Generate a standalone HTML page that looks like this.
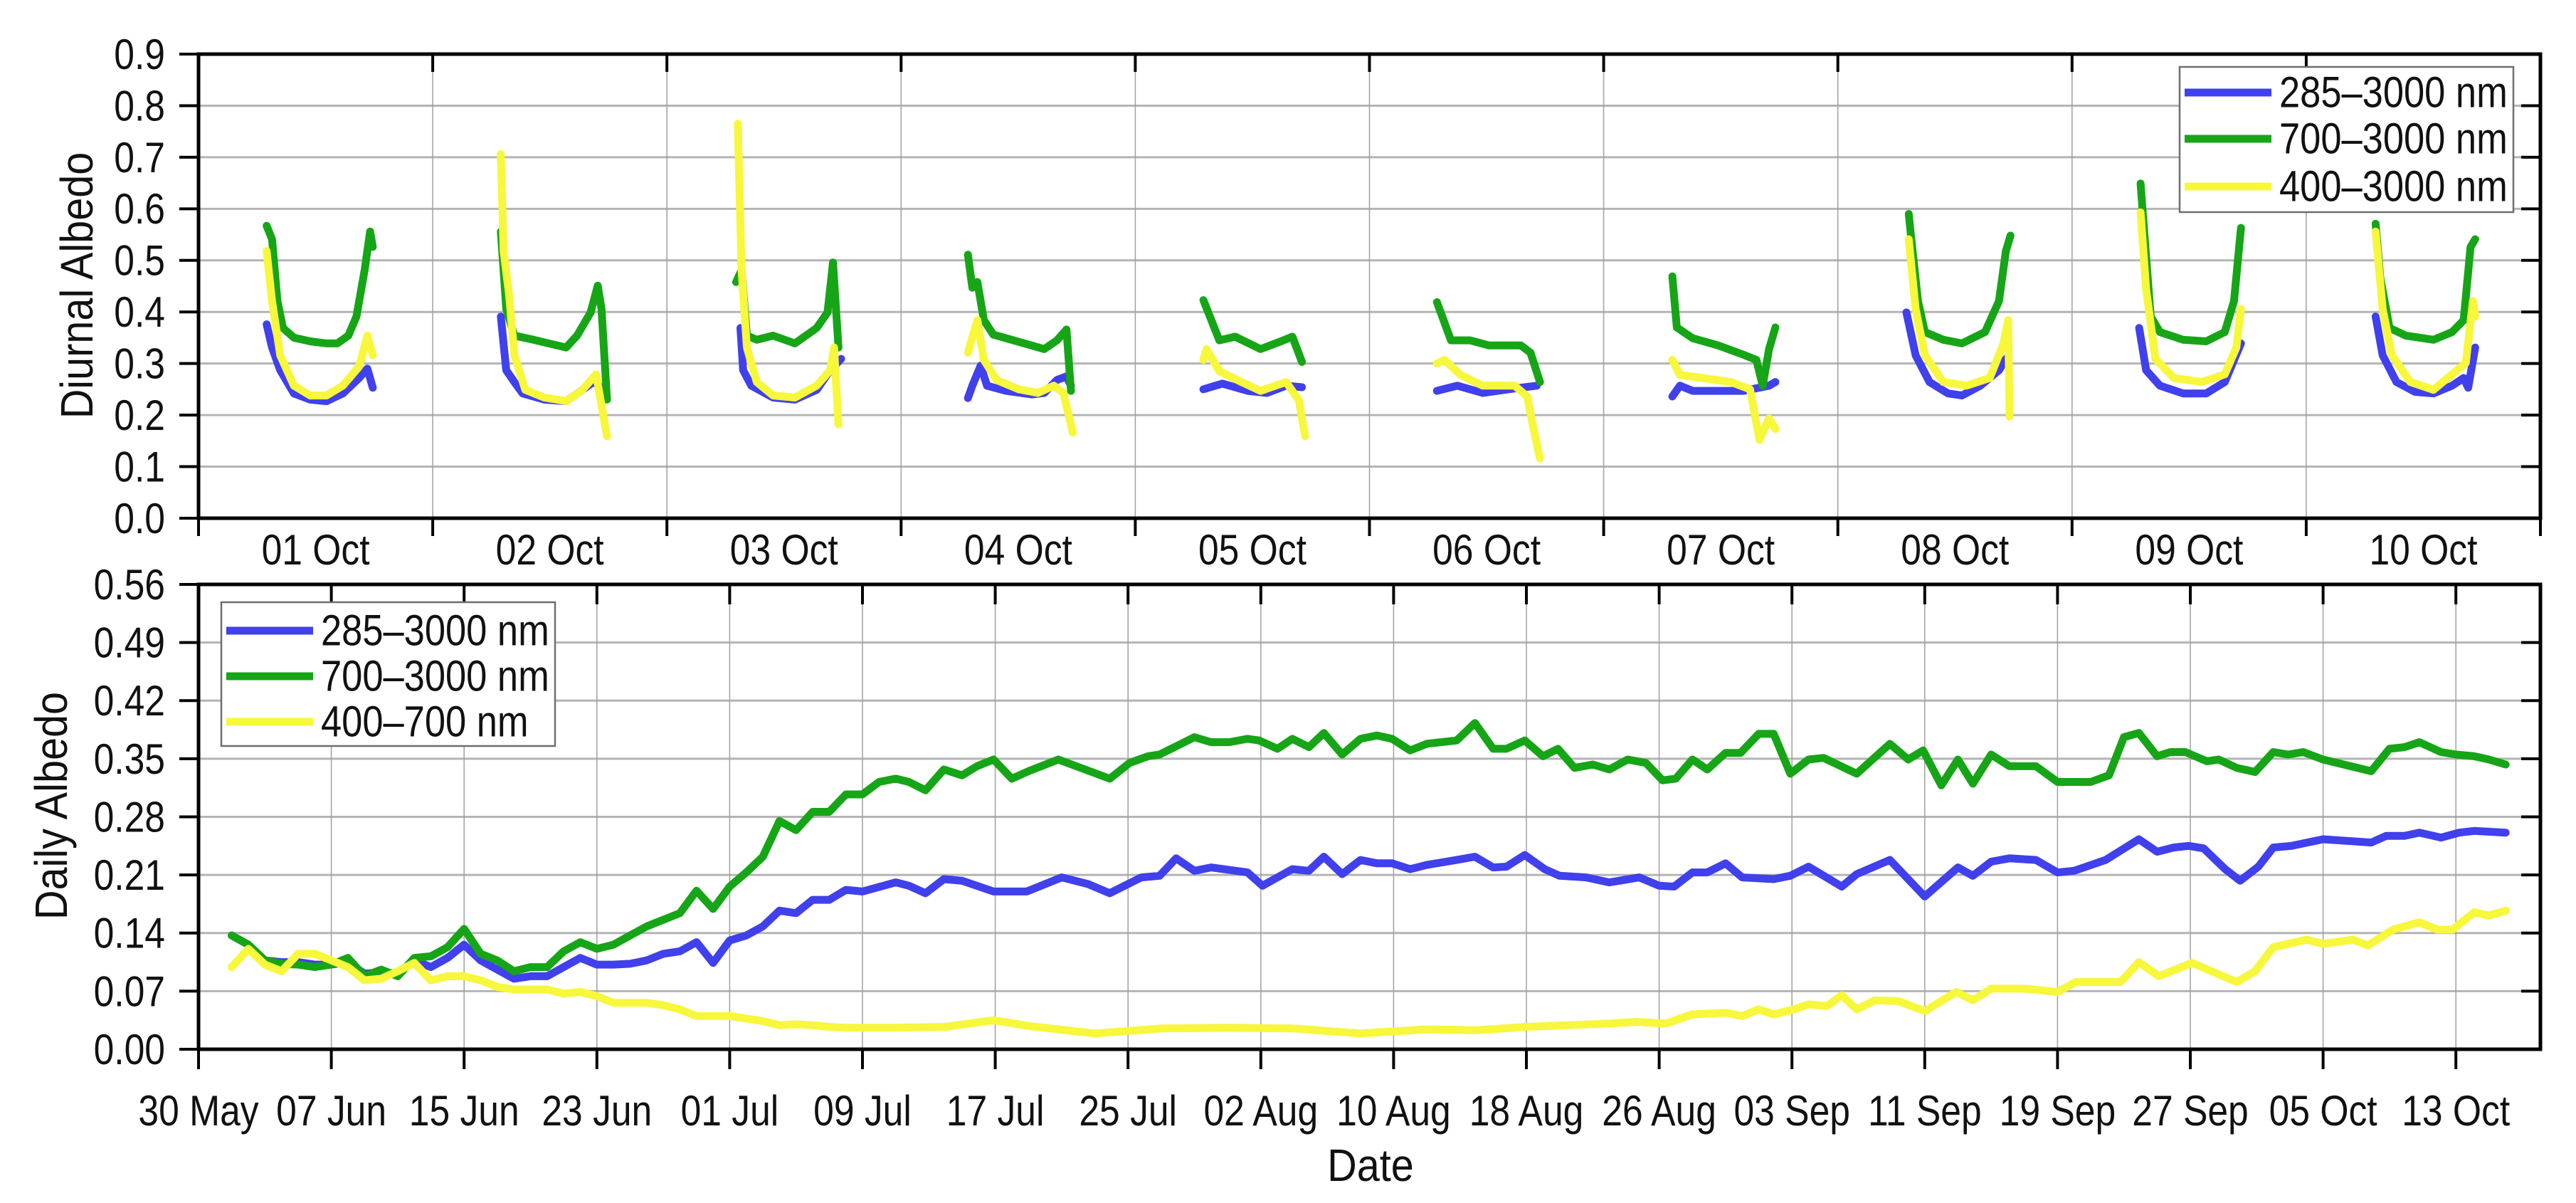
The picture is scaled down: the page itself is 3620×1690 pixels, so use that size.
<!DOCTYPE html>
<html><head><meta charset="utf-8"><style>
html,body{margin:0;padding:0;background:#fff;}
svg{display:block;font-family:"Liberation Sans",Arial,sans-serif;}
</style></head><body>
<svg id="chart" width="3620" height="1690" viewBox="0 0 3620 1690" xmlns="http://www.w3.org/2000/svg">
<rect x="0" y="0" width="3620" height="1690" fill="#fff"/>
<g id="topPanel"></g>
<g id="bottomPanel"></g>
</svg>
<script>
// ---------- Top panel data (diurnal) ----------
const dayLabels = ["01 Oct","02 Oct","03 Oct","04 Oct","05 Oct","06 Oct","07 Oct","08 Oct","09 Oct","10 Oct"];
const topTicks = [0.0,0.1,0.2,0.3,0.4,0.5,0.6,0.7,0.8,0.9];
const topTickLabels = ["0.0","0.1","0.2","0.3","0.4","0.5","0.6","0.7","0.8","0.9"];
const hours285 = [
 [6.98,7.53,8.37,9.77,11.44,13.12,14.79,16.46,17.3,17.86],
 [6.98,7.53,8.37,9.21,11.44,13.67,15.35,16.46,17.02],
 [7.53,7.81,8.65,10.88,13.12,15.35,16.74,17.86],
 [6.85,7.3,8.15,8.8,10.76,13.37,14.67,15.97,16.95,17.41],
 [6.98,8.93,11.54,13.5,15.45,17.08],
 [6.91,9.0,11.6,14.21,17.15],
 [7.04,7.82,9.13,11.74,14.34,16.95,17.6],
 [7.02,7.97,9.39,11.29,12.71,14.61,16.51,17.22],
 [6.88,7.59,9.01,11.38,13.75,15.65,17.31],
 [7.11,7.83,9.25,11.15,13.04,14.94,16.13,16.6,17.31]];
const vals285 = [
 [0.376,0.331,0.287,0.242,0.23,0.227,0.242,0.272,0.29,0.253],
 [0.391,0.287,0.264,0.242,0.23,0.227,0.249,0.264,0.257],
 [0.369,0.287,0.257,0.234,0.23,0.249,0.287,0.309],
 [0.233,0.257,0.296,0.257,0.247,0.24,0.243,0.268,0.275,0.257],
 [0.25,0.261,0.247,0.243,0.257,0.254],
 [0.247,0.257,0.243,0.25,0.257],
 [0.236,0.257,0.247,0.247,0.247,0.257,0.264],
 [0.399,0.316,0.264,0.242,0.238,0.257,0.287,0.309],
 [0.369,0.287,0.257,0.242,0.242,0.264,0.339],
 [0.391,0.316,0.264,0.245,0.242,0.257,0.272,0.253,0.331]];
const hours700 = [
 [6.98,7.53,8.09,8.65,9.77,11.44,13.12,14.23,15.35,16.18,17.02,17.58,17.86],
 [6.98,7.53,8.37,10.32,13.67,14.79,16.18,16.91,17.3,17.86],
 [7.09,7.65,8.2,9.21,10.88,13.12,15.35,16.46,17.02,17.58],
 [6.85,7.3,7.82,8.48,9.45,12.06,14.67,15.97,16.95,17.41],
 [6.98,8.61,10.24,12.84,14.8,16.1,17.08],
 [6.91,8.35,10.3,12.26,15.52,16.5,17.47],
 [7.04,7.5,9.13,11.74,14.34,15.65,16.3,16.95,17.6],
 [7.26,7.49,8.21,8.92,10.81,12.71,15.08,16.51,17.22,17.69],
 [7.02,7.21,8.06,9.01,11.38,13.75,15.65,16.6,17.31],
 [7.11,7.59,8.54,10.2,13.04,14.94,16.13,16.84,17.31]];
const vals700 = [
 [0.567,0.541,0.421,0.369,0.35,0.343,0.339,0.339,0.354,0.391,0.481,0.556,0.526],
 [0.556,0.406,0.354,0.346,0.331,0.354,0.399,0.451,0.406,0.23],
 [0.458,0.481,0.354,0.346,0.354,0.339,0.369,0.399,0.496,0.331],
 [0.511,0.447,0.458,0.384,0.356,0.342,0.328,0.345,0.366,0.247],
 [0.423,0.345,0.352,0.328,0.342,0.352,0.303],
 [0.419,0.345,0.345,0.335,0.335,0.321,0.264],
 [0.469,0.37,0.349,0.335,0.317,0.307,0.257,0.328,0.37],
 [0.59,0.548,0.421,0.361,0.346,0.339,0.361,0.421,0.518,0.548],
 [0.649,0.601,0.391,0.361,0.346,0.343,0.361,0.421,0.563],
 [0.571,0.466,0.369,0.354,0.346,0.361,0.384,0.526,0.541]];
const hours400 = [
 [6.98,7.53,8.37,9.77,11.44,13.12,14.79,16.46,17.3,17.86],
 [6.98,7.26,7.81,8.37,9.49,11.44,13.67,15.35,16.74,17.3,17.86],
 [7.26,7.65,8.2,9.21,10.88,13.12,15.35,16.74,17.13,17.58],
 [6.85,7.82,8.48,9.78,12.06,14.02,15.65,16.63,17.6],
 [6.98,7.3,8.61,10.89,12.84,15.45,16.76,17.41],
 [6.91,7.69,9.32,11.6,14.87,16.17,16.82,17.47],
 [7.04,7.82,10.43,13.04,15.0,15.97,16.95,17.6],
 [7.26,7.97,8.92,10.81,13.19,15.56,16.98,17.46,17.6],
 [7.02,7.59,8.54,10.43,13.28,15.65,16.84,17.31],
 [7.11,7.83,8.77,10.67,13.04,14.94,16.36,17.08,17.31]];
const vals400 = [
 [0.518,0.421,0.316,0.257,0.238,0.238,0.257,0.294,0.354,0.316],
 [0.706,0.518,0.436,0.316,0.249,0.234,0.227,0.249,0.279,0.219,0.159],
 [0.765,0.481,0.331,0.264,0.238,0.234,0.257,0.287,0.331,0.182],
 [0.321,0.384,0.307,0.268,0.25,0.243,0.257,0.243,0.166],
 [0.307,0.328,0.285,0.264,0.247,0.264,0.229,0.159],
 [0.3,0.307,0.278,0.257,0.257,0.236,0.173,0.116],
 [0.307,0.278,0.271,0.264,0.25,0.152,0.194,0.173],
 [0.541,0.406,0.316,0.264,0.257,0.272,0.339,0.384,0.197],
 [0.593,0.444,0.309,0.272,0.264,0.279,0.331,0.406],
 [0.556,0.406,0.316,0.264,0.249,0.279,0.301,0.421,0.391]];

// ---------- Bottom panel data (daily) ----------
const dateLabels = ["30 May","07 Jun","15 Jun","23 Jun","01 Jul","09 Jul","17 Jul","25 Jul","02 Aug","10 Aug","18 Aug","26 Aug","03 Sep","11 Sep","19 Sep","27 Sep","05 Oct","13 Oct"];
const bottomTicks = [0,0.07,0.14,0.21,0.28,0.35,0.42,0.49,0.56];
const bottomTickLabels = ["0.00","0.07","0.14","0.21","0.28","0.35","0.42","0.49","0.56"];
const daysB285 = [2,3,4,5,6,7,8,9,10,11,12,13,14,15,16,17,18,19,20,21,22,23,24,25,26,27,28,29,30,31,32,33,34,35,36,37,38,39,40,42,42.8,43.8,44.9,46,47.9,49.9,52,53.6,54.9,56.8,57.9,58.9,60,61,63.2,64.1,65.9,66.9,67.8,68.9,70,71,71.9,73,74,75.8,76.9,78,78.8,79.9,81.1,82,83.6,85,86.8,88,88.9,90,90.9,92,93,94.9,95.9,97,99,99.9,101.9,104,106,106.9,108,109.1,110.7,112,113,114.9,116.9,118,119,119.9,120.8,122.1,123,124.1,125,126.1,128,130.9,131.8,132.9,133.8,135.1,136.2,137.1,139];
const daily285 = [.137,.126,.107,.105,.105,.102,.102,.105,.091,.093,.091,.107,.099,.11,.126,.107,.096,.085,.088,.088,.099,.11,.102,.102,.103,.107,.115,.118,.129,.104,.131,.137,.148,.167,.164,.18,.18,.192,.19,.201,.197,.188,.205,.203,.19,.19,.207,.199,.188,.207,.209,.23,.215,.219,.213,.197,.217,.215,.232,.211,.228,.224,.224,.217,.222,.228,.232,.219,.22,.234,.217,.209,.207,.201,.207,.197,.196,.213,.213,.224,.207,.205,.209,.22,.196,.211,.228,.184,.219,.209,.226,.23,.228,.213,.215,.228,.253,.238,.243,.245,.242,.217,.203,.22,.243,.245,.253,.249,.257,.257,.261,.255,.261,.263,.261];
const daysB700 = [2,3,4,5,6,7,8,9,10,11,12,13,14,15,16,17,18,19,20,21,22,23,24,25,26,27,28,29,30,31,32,33,34,35,36,37,38,39,40,41,42,42.8,43.8,44.9,46,46.9,47.9,49,50,51.8,54.9,56.1,57.2,57.9,58.8,60,61,62.1,63.2,63.9,65,65.9,66.9,67.8,68.9,70,71,71.9,73,74,75.8,76.9,78,78.8,79.9,81,81.9,82.9,84,85,86.1,87.2,88.2,89,90,90.9,92,92.9,94,94.9,95.9,97,97.9,99.9,101.9,103,103.9,105,106,106.9,108,109.1,110.7,112,114,115.1,116,116.9,118,118.8,119.7,121,121.7,122.8,123.9,125,125.9,126.8,128,130.9,132,132.9,133.8,135.1,136,137.1,138,139];
const daily700 = [.137,.126,.107,.103,.102,.099,.102,.11,.088,.096,.088,.11,.112,.123,.145,.115,.107,.094,.099,.099,.118,.129,.121,.126,.137,.148,.156,.164,.191,.169,.196,.213,.232,.275,.264,.286,.286,.307,.307,.322,.326,.322,.312,.337,.33,.341,.349,.326,.335,.349,.326,.345,.353,.355,.364,.376,.37,.37,.374,.372,.362,.374,.364,.381,.355,.374,.378,.374,.36,.368,.372,.393,.362,.362,.372,.353,.362,.339,.343,.337,.349,.345,.324,.326,.349,.337,.357,.357,.38,.38,.332,.349,.351,.332,.368,.349,.36,.318,.349,.32,.355,.341,.341,.322,.322,.33,.376,.381,.353,.358,.358,.347,.349,.339,.334,.358,.355,.358,.349,.335,.362,.364,.37,.358,.355,.353,.349,.343];
const daysB400 = [2,3,4,5,6,7,8,9,10,11,12,13,14,15,16,17,18,19,20,21,22,23,24,25,26,27,28,29,30,31,32,33,34,35,36,37,38,39,42,45,47.9,50,54,58,62,66,70,74,77,80,85,86.6,88.4,90,92,93,94,94.9,96.1,97,98.1,99,99.9,101,102.4,104,105.9,106.9,108,110,112,113.1,115.8,116.9,118.1,120.1,122.8,123.9,125,127,128,129.8,130.7,132.2,133.8,134.9,135.8,137.1,138,139];
const daily400 = [.099,.121,.102,.094,.115,.115,.107,.099,.083,.085,.094,.104,.083,.088,.088,.083,.075,.072,.072,.072,.067,.069,.064,.056,.056,.056,.053,.048,.04,.04,.04,.037,.034,.029,.03,.029,.027,.026,.026,.027,.035,.028,.019,.025,.026,.025,.019,.024,.023,.027,.031,.033,.031,.042,.044,.04,.048,.042,.048,.054,.052,.065,.048,.059,.058,.046,.069,.059,.073,.073,.069,.081,.081,.105,.088,.104,.081,.094,.123,.132,.127,.132,.125,.144,.153,.144,.144,.165,.161,.167];

const NS = "http://www.w3.org/2000/svg";
const C285 = "#4040ec", C700 = "#16a516", C400 = "#f7f73c";
const SX = 0.86;
function mk(parent, tag, attrs, text){
  const el = document.createElementNS(NS, tag);
  for (const k in attrs) el.setAttribute(k, attrs[k]);
  if (text !== undefined) el.textContent = text;
  parent.appendChild(el);
  return el;
}
function txt(parent, x, y, str, size, anchor, rot, sx){
  const tr = 'translate(' + x + ',' + y + ')' + (rot ? ' rotate(' + rot + ')' : '') + ' scale(' + (sx || SX) + ',1)';
  return mk(parent, 'text', {x:0, y:0, 'font-size':size, 'text-anchor':anchor, 'dominant-baseline':'central', fill:'#111', transform:tr}, str);
}
const L = 279, R = 3570;
const T1 = 76, B1 = 728, T2 = 821, B2 = 1474;
const dayW = (R - L) / 10;
const xT = (d, h) => L + (d + h / 24) * dayW;
const yT = v => B1 - v / 0.9 * (B1 - T1);
const pxPerDay = 186.6 / 8;
const xB = d => L + d * pxPerDay;
const yB = v => B2 - v / 0.56 * (B2 - T2);
const LW = 11;

const topG = document.getElementById('topPanel');
const bottomG = document.getElementById('bottomPanel');

for (let i = 1; i < topTicks.length - 1; i++) {
  const g = mk(topG, 'line', {x1:L, x2:R, y1:yT(topTicks[i]), y2:yT(topTicks[i]), stroke:'#b4b4b4', 'stroke-width':3});
  
  
}
for (let d = 1; d < 10; d++) {
  const g = mk(topG, 'line', {x1:L + d*dayW, x2:L + d*dayW, y1:T1, y2:B1, stroke:'#a0a0a0', 'stroke-width':1.5});
  
  
}
function drawDiurnal(hours, vals, color, name){
  for (let d = 0; d < hours.length; d++) {
    const pts = hours[d].map((h, i) => xT(d, h).toFixed(1) + ',' + yT(vals[d][i]).toFixed(1)).join(' ');
    const p = mk(topG, 'polyline', {points:pts, fill:'none', stroke:color, 'stroke-width':LW, 'stroke-linejoin':'round', 'stroke-linecap':'round'});
    
    
  }
}
drawDiurnal(hours285, vals285, C285, 'diurnal-285-3000');
drawDiurnal(hours700, vals700, C700, 'diurnal-700-3000');
drawDiurnal(hours400, vals400, C400, 'diurnal-400-3000');
const f1 = mk(topG, 'rect', {x:L, y:T1, width:R-L, height:B1-T1, fill:'none', stroke:'#000', 'stroke-width':5});


for (let i = 0; i < topTicks.length; i++) {
  const y = yT(topTicks[i]);
  mk(topG, 'line', {x1:L-27, x2:L, y1:y, y2:y, stroke:'#000', 'stroke-width':4});
  mk(topG, 'line', {x1:R-27, x2:R, y1:y, y2:y, stroke:'#000', 'stroke-width':4});
  const t = txt(topG, 232, y, topTickLabels[i], 60, 'end');
  
  
}
for (let d = 0; d <= 10; d++) {
  const x = L + d*dayW;
  mk(topG, 'line', {x1:x, x2:x, y1:B1, y2:B1+25, stroke:'#000', 'stroke-width':4});
  mk(topG, 'line', {x1:x, x2:x, y1:T1, y2:T1+25, stroke:'#000', 'stroke-width':4});
}
for (let d = 0; d < dayLabels.length; d++) {
  const t = txt(topG, L + (d+0.5)*dayW, 772, dayLabels[d], 60, 'middle');
  
  
}
const yt1 = txt(topG, 108, 401, 'Diurnal Albedo', 64, 'middle', -90, 0.9);



function legend(parent, x0, y0, w, h, rows, lx1, lx2, tx, name){
  const g = mk(parent, 'g', {});
  
  
  mk(g, 'rect', {x:x0, y:y0, width:w, height:h, fill:'#fff', stroke:'#6e6e6e', 'stroke-width':2.5});
  rows.forEach(r => {
    const e = mk(g, 'g', {});
    
    
    mk(e, 'line', {x1:lx1, x2:lx2, y1:r[2], y2:r[2], stroke:r[1], 'stroke-width':11});
    txt(e, tx, r[2], r[0], 61, 'start', 0, 0.86);
  });
}
legend(topG, 3063, 94, 469, 204, [["285–3000 nm",C285,130],["700–3000 nm",C700,195],["400–3000 nm",C400,262]], 3070, 3192, 3203, 'top-legend');

for (let i = 1; i < bottomTicks.length - 1; i++) {
  const g = mk(bottomG, 'line', {x1:L, x2:R, y1:yB(bottomTicks[i]), y2:yB(bottomTicks[i]), stroke:'#b4b4b4', 'stroke-width':3});
  
  
}
for (let k = 1; k < dateLabels.length; k++) {
  const x = xB(k*8);
  const g = mk(bottomG, 'line', {x1:x, x2:x, y1:T2, y2:B2, stroke:'#a0a0a0', 'stroke-width':1.5});
  
  
}
function drawDaily(days, vals, color, name){
  const pts = days.map((d, i) => xB(d).toFixed(1) + ',' + yB(vals[i]).toFixed(1)).join(' ');
  const p = mk(bottomG, 'polyline', {points:pts, fill:'none', stroke:color, 'stroke-width':LW, 'stroke-linejoin':'round', 'stroke-linecap':'round'});
  
  
}
drawDaily(daysB285, daily285, C285, 'daily-285-3000-line');
drawDaily(daysB700, daily700, C700, 'daily-700-3000-line');
drawDaily(daysB400, daily400, C400, 'daily-400-700-line');
const f2 = mk(bottomG, 'rect', {x:L, y:T2, width:R-L, height:B2-T2, fill:'none', stroke:'#000', 'stroke-width':5});


for (let i = 0; i < bottomTicks.length; i++) {
  const y = yB(bottomTicks[i]);
  mk(bottomG, 'line', {x1:L-27, x2:L, y1:y, y2:y, stroke:'#000', 'stroke-width':4});
  mk(bottomG, 'line', {x1:R-27, x2:R, y1:y, y2:y, stroke:'#000', 'stroke-width':4});
  const t = txt(bottomG, 232, y, bottomTickLabels[i], 60, 'end');
  
  
}
for (let k = 0; k < dateLabels.length; k++) {
  const x = xB(k*8);
  mk(bottomG, 'line', {x1:x, x2:x, y1:B2, y2:B2+28, stroke:'#000', 'stroke-width':4});
  mk(bottomG, 'line', {x1:x, x2:x, y1:T2, y2:T2+28, stroke:'#000', 'stroke-width':4});
  const t = txt(bottomG, x, 1560, dateLabels[k], 60, 'middle');
  
  
}
const yt2 = txt(bottomG, 72, 1132, 'Daily Albedo', 64, 'middle', -90, 0.9);


const xt = txt(bottomG, 1926, 1637, 'Date', 64, 'middle', 0, 0.9);


legend(bottomG, 311, 846, 469, 202, [["285–3000 nm",C285,886],["700–3000 nm",C700,950],["400–700 nm",C400,1014]], 318, 440, 451, 'bottom-legend');
</script>
</body></html>
